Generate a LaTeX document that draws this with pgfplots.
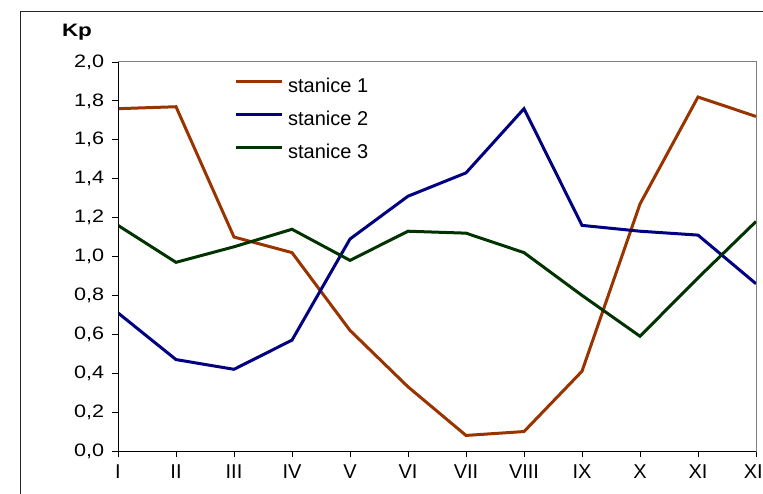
\documentclass[border=0pt]{standalone}
\usepackage{pgfplots}
\pgfplotsset{compat=1.18}
\usepackage{fontspec}
\setmainfont{Liberation Sans}

\definecolor{st1}{RGB}{153,51,0}
\definecolor{st2}{RGB}{0,0,128}
\definecolor{st3}{RGB}{0,51,0}

\begin{document}
\begin{tikzpicture}[x=1pt,y=1pt]
\begin{axis}[
    at={(118pt,42pt)}, anchor=south west,
    scale only axis, width=638pt, height=389pt,
    xmin=1, xmax=12, ymin=0, ymax=2,
    xtick={1,...,12},
    xticklabels={I,II,III,IV,V,VI,VII,VIII,IX,X,XI,XII},
    ytick={0,0.2,...,2.01},
    xtick pos=left, ytick pos=left,
    tick align=outside, major tick length=6pt,
    tick style={black, line width=0.8pt},
    axis line style={draw=gray, line width=1pt},
    /pgf/number format/.cd, fixed, fixed zerofill, precision=1, use comma, assume math mode=true,
    /pgfplots/.cd,
    yticklabel style={font=\fontsize{18}{18}\selectfont, xscale=1.2, xshift=-3pt},
    xticklabel style={font=\fontsize{20}{20}\selectfont, yshift=-4pt},
    legend style={at={(axis description cs:0.1818,0.9589)}, anchor=north west,
        draw=none, fill=none, inner sep=0pt, row sep=14pt, column sep=5pt,
        nodes={inner sep=0pt, text height=14pt, text depth=5pt},
        font=\fontsize{20}{20}\selectfont},
    legend cell align=left,
    legend image code/.code={\draw[#1] (0pt,6pt) -- (46pt,6pt);},
    every axis plot/.append style={line width=3pt, line join=miter},
]
\addplot[st1] coordinates {(1,1.76) (2,1.77) (3,1.10) (4,1.02) (5,0.62) (6,0.33) (7,0.08) (8,0.10) (9,0.41) (10,1.27) (11,1.82) (12,1.72)};
\addlegendentry{stanice 1}
\addplot[st2] coordinates {(1,0.71) (2,0.47) (3,0.42) (4,0.57) (5,1.09) (6,1.31) (7,1.43) (8,1.76) (9,1.16) (10,1.13) (11,1.11) (12,0.86)};
\addlegendentry{stanice 2}
\addplot[st3] coordinates {(1,1.16) (2,0.97) (3,1.05) (4,1.14) (5,0.98) (6,1.13) (7,1.12) (8,1.02) (9,0.80) (10,0.59) (11,0.89) (12,1.18)};
\addlegendentry{stanice 3}
\draw[black, line width=1pt] (axis cs:1,2) -- (axis cs:1,0) -- (axis cs:12,0);
\end{axis}
\draw[black!85, line width=1pt] (20,-5) -- (20,481) -- (775,481);
\node[font=\bfseries\fontsize{18}{18}\selectfont, xscale=1.25] at (77,461) {Kp};
\pgfresetboundingbox
\path (0,0) rectangle (763,493);
\end{tikzpicture}
\end{document}
